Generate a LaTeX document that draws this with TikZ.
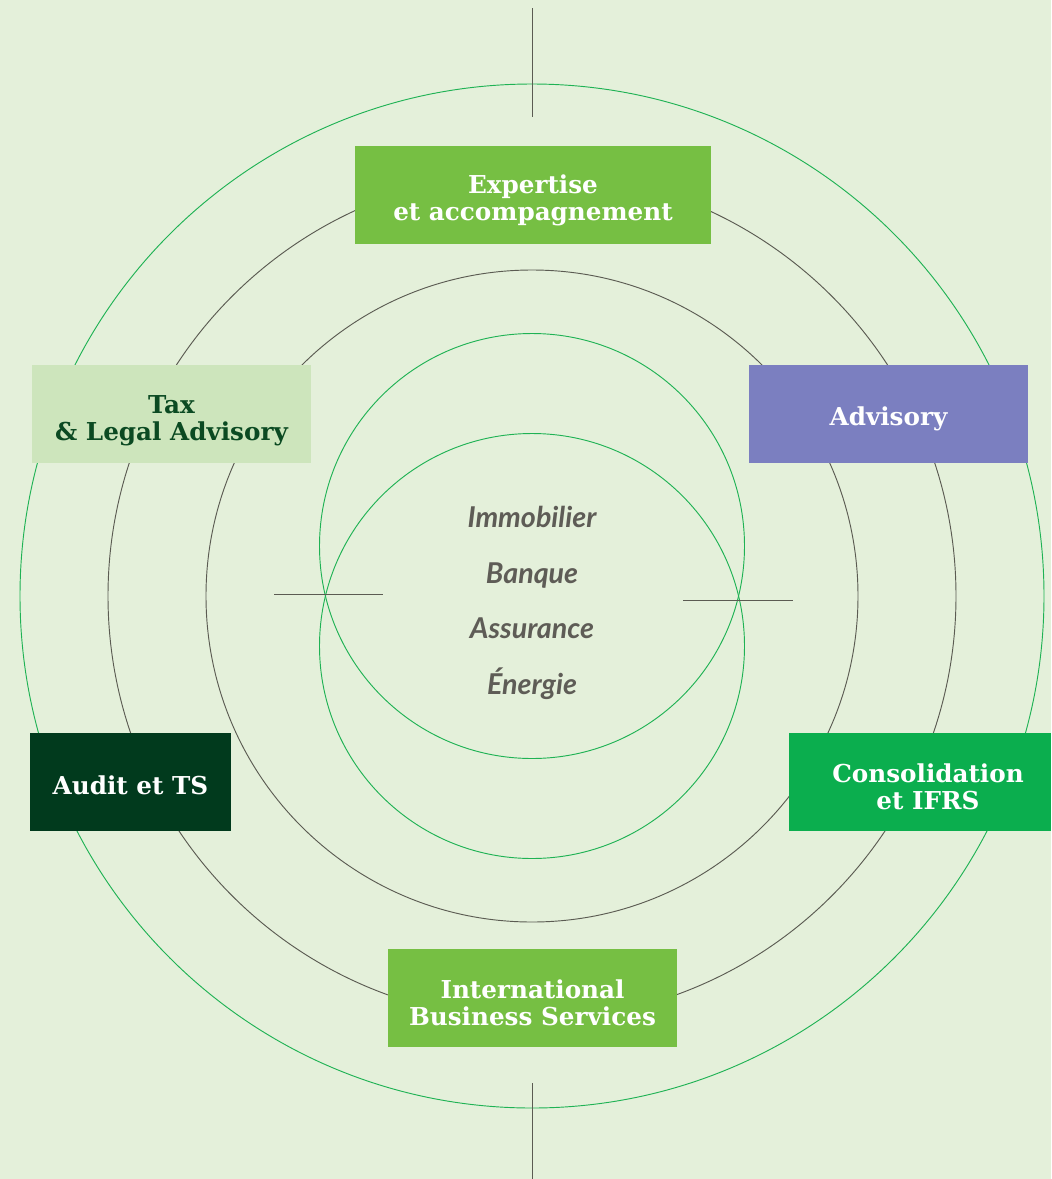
\documentclass[tikz,border=0pt]{standalone}
\usepackage{fontspec}
\newfontfamily\boxfont{DejaVu Serif}
\newfontfamily\secfont{Lato}
\definecolor{bg}{HTML}{E4F0DA}
\definecolor{ringgreen}{HTML}{1FB254}
\definecolor{ringgray}{HTML}{5B5B52}
\definecolor{leafgreen}{HTML}{76BF43}
\definecolor{palegreen}{HTML}{CDE5BC}
\definecolor{darktext}{HTML}{0B4A22}
\definecolor{lavender}{HTML}{7B7FC0}
\definecolor{forest}{HTML}{013A1D}
\definecolor{emerald}{HTML}{0BAE4E}
\definecolor{sectext}{HTML}{5E5C56}
\tikzset{
  box/.style={rectangle, inner sep=0pt, minimum height={98*0.75pt}},
  boxlabel/.style={align=center, inner sep=0pt, yshift=-3.8pt,
    font=\boxfont\bfseries\fontsize{18.5pt}{20pt}\selectfont, text=white},
  ring/.style={line width=0.7pt},
  tick/.style={draw=ringgray, line width=0.7pt},
  sector/.style={font=\secfont\bfseries\itshape\fontsize{21.5pt}{24pt}\selectfont, text=sectext}
}
\begin{document}
\begin{tikzpicture}[x=0.75pt,y=-0.75pt]
\fill[bg] (0,0) rectangle (1051,1179);
\useasboundingbox (0,0) rectangle (1051,1179);
% rings
\coordinate (c) at (532,596);
\draw[ring, draw=ringgreen] (c) circle[radius=512];
\draw[ring, draw=ringgray] (c) circle[radius=424];
\draw[ring, draw=ringgray] (c) circle[radius=326];
\draw[ring, draw=ringgreen] (532,546) circle[radius=212.5];
\draw[ring, draw=ringgreen] (532,646) circle[radius=212.5];
% ticks
\coordinate (t1) at (532,8); \coordinate (t2) at (532,117);
\coordinate (b1) at (532,1083); \coordinate (b2) at (532,1179);
\coordinate (l1) at (274,594); \coordinate (l2) at (383,594);
\coordinate (r1) at (683,600); \coordinate (r2) at (793,600);
\draw[tick] (t1) -- (t2);
\draw[tick] (b1) -- (b2);
\draw[tick] (l1) -- (l2);
\draw[tick] (r1) -- (r2);
% boxes
\node[box, fill=leafgreen, minimum width={356*0.75pt},
  label={[boxlabel]center:Expertise\\et accompagnement}] (exp) at (533,195) {};
\node[box, fill=palegreen, minimum width={279*0.75pt},
  label={[boxlabel, text=darktext, yshift=-1.5pt]center:Tax\\\& Legal Advisory}] (tax) at (171.5,414) {};
\node[box, fill=lavender, minimum width={279*0.75pt},
  label={[boxlabel]center:Advisory}] (adv) at (888.5,414) {};
\node[box, fill=forest, minimum width={201*0.75pt},
  label={[boxlabel, yshift=1pt]center:Audit et TS}] (aud) at (130.5,782) {};
\node[box, fill=emerald, minimum width={262*0.75pt},
  label={[boxlabel, xshift=6pt]center:Consolidation\\et IFRS}] (con) at (920,782) {};
\node[box, fill=leafgreen, minimum width={289*0.75pt},
  label={[boxlabel]center:International\\Business Services}] (int) at (532.5,998) {};
% sectors
\node[sector, anchor=base] (s1) at (532,527) {Immobilier};
\node[sector, anchor=base] (s2) at (532,583) {Banque};
\node[sector, anchor=base] (s3) at (532,638) {Assurance};
\node[sector, anchor=base] (s4) at (532,694) {Énergie};
\end{tikzpicture}
\end{document}
